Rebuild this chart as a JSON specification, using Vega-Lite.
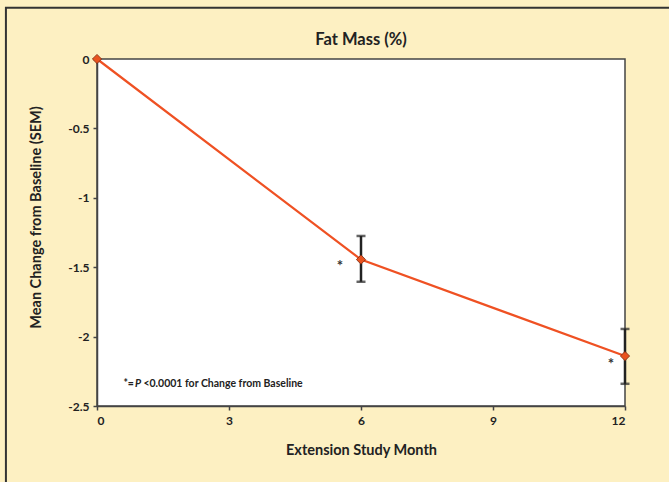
{
  "$schema": "https://vega.github.io/schema/vega-lite/v6.json",
  "width": 528,
  "height": 347,
  "autosize": {"type": "none"},
  "padding": {"left": 97, "top": 59, "right": 44, "bottom": 76},
  "background": "#FDF0C2",
  "config": {
    "font": "Lato",
    "view": {"fill": "white", "stroke": "#444", "strokeWidth": 1.5},
    "axis": {
      "grid": false,
      "domainColor": "#444",
      "domainWidth": 1.5,
      "tickColor": "#444",
      "tickWidth": 1.5,
      "tickSize": 4,
      "labelFont": "Lato",
      "labelFontSize": 12,
      "labelFontWeight": "bold",
      "labelColor": "#222",
      "titleFont": "Lato",
      "titleFontSize": 14.5,
      "titleFontWeight": "bold",
      "titleColor": "#222"
    }
  },
  "title": {
    "text": "Fat Mass (%)",
    "fontSize": 16.5,
    "fontWeight": "bold",
    "color": "#222",
    "font": "Lato",
    "offset": -42,
    "frame": "group",
    "anchor": "middle"
  },
  "datasets": {
    "main": [
      {"month": 0, "change": 0},
      {"month": 6, "change": -1.445, "lo": -1.605, "hi": -1.275},
      {"month": 12, "change": -2.14, "lo": -2.34, "hi": -1.945}
    ],
    "stars": [
      {"month": 5.52, "change": -1.46, "label": "*"},
      {"month": 11.68, "change": -2.17, "label": "*"}
    ],
    "note": [
      {"month": 0.6, "change": -2.34, "a": "*=", "p": "P", "b": "<0.0001 for Change from Baseline"}
    ]
  },
  "layer": [
    {
      "data": {"values": [{"k": 1}]},
      "mark": {"type": "rect", "fill": "transparent", "stroke": "#333", "strokeWidth": 2, "clip": false},
      "encoding": {
        "x": {"datum": -2.07, "type": "quantitative", "scale": {"domain": [0, 12], "nice": false}},
        "x2": {"datum": 30},
        "y": {"datum": 0.37, "type": "quantitative", "scale": {"domain": [-2.5, 0], "nice": false}},
        "y2": {"datum": -10}
      }
    },
    {
      "data": {"name": "main"},
      "mark": {"type": "line", "color": "#EF5123", "strokeWidth": 2.2},
      "encoding": {
        "x": {
          "field": "month", "type": "quantitative",
          "scale": {"domain": [0, 12], "nice": false},
          "title": "Extension Study Month",
          "axis": {"values": [0, 3, 6, 9, 12], "labelPadding": 5, "titlePadding": 17}
        },
        "y": {
          "field": "change", "type": "quantitative",
          "scale": {"domain": [-2.5, 0], "nice": false},
          "title": "Mean Change from Baseline (SEM)",
          "axis": {
            "values": [0, -0.5, -1, -1.5, -2, -2.5],
            "labelExpr": "datum.value == 0 ? '0' : '-' + format(abs(datum.value), '')",
            "labelPadding": 4,
            "titlePadding": 24,
            "titleY": 158
          }
        }
      }
    },
    {
      "data": {"name": "main"},
      "transform": [{"filter": "isValid(datum.lo)"}],
      "mark": {"type": "errorbar", "color": "#222", "thickness": 2.5, "ticks": {"size": 9, "thickness": 2.5, "color": "#222"}},
      "encoding": {
        "x": {"field": "month", "type": "quantitative", "title": "Extension Study Month", "scale": {"domain": [0, 12], "nice": false}},
        "y": {"field": "lo", "type": "quantitative", "title": "Mean Change from Baseline (SEM)", "scale": {"domain": [-2.5, 0], "nice": false}},
        "y2": {"field": "hi"}
      }
    },
    {
      "data": {"name": "main"},
      "mark": {"type": "point", "shape": "diamond", "filled": true, "fill": "#E9531F", "stroke": "#7A2A10", "strokeWidth": 0.8, "size": 85, "opacity": 1},
      "encoding": {
        "x": {"field": "month", "type": "quantitative", "scale": {"domain": [0, 12], "nice": false}},
        "y": {"field": "change", "type": "quantitative", "scale": {"domain": [-2.5, 0], "nice": false}}
      }
    },
    {
      "data": {"name": "stars"},
      "mark": {"type": "text", "fontSize": 15, "fontWeight": "bold", "fill": "#333", "baseline": "middle", "align": "center", "dy": 4},
      "encoding": {
        "x": {"field": "month", "type": "quantitative", "scale": {"domain": [0, 12], "nice": false}},
        "y": {"field": "change", "type": "quantitative", "scale": {"domain": [-2.5, 0], "nice": false}},
        "text": {"field": "label"}
      }
    },
    {
      "data": {"name": "note"},
      "mark": {"type": "text", "fontSize": 10.5, "fontWeight": "bold", "fill": "#222", "baseline": "middle", "align": "left"},
      "encoding": {
        "x": {"field": "month", "type": "quantitative", "scale": {"domain": [0, 12], "nice": false}},
        "y": {"field": "change", "type": "quantitative", "scale": {"domain": [-2.5, 0], "nice": false}},
        "text": {"field": "a"}
      }
    },
    {
      "data": {"name": "note"},
      "mark": {"type": "text", "fontSize": 10.5, "fontWeight": "bold", "fontStyle": "italic", "fill": "#222", "baseline": "middle", "align": "left", "dx": 11.5},
      "encoding": {
        "x": {"field": "month", "type": "quantitative", "scale": {"domain": [0, 12], "nice": false}},
        "y": {"field": "change", "type": "quantitative", "scale": {"domain": [-2.5, 0], "nice": false}},
        "text": {"field": "p"}
      }
    },
    {
      "data": {"name": "note"},
      "mark": {"type": "text", "fontSize": 10.5, "fontWeight": "bold", "fill": "#222", "baseline": "middle", "align": "left", "dx": 20},
      "encoding": {
        "x": {"field": "month", "type": "quantitative", "scale": {"domain": [0, 12], "nice": false}},
        "y": {"field": "change", "type": "quantitative", "scale": {"domain": [-2.5, 0], "nice": false}},
        "text": {"field": "b"}
      }
    }
  ]
}
